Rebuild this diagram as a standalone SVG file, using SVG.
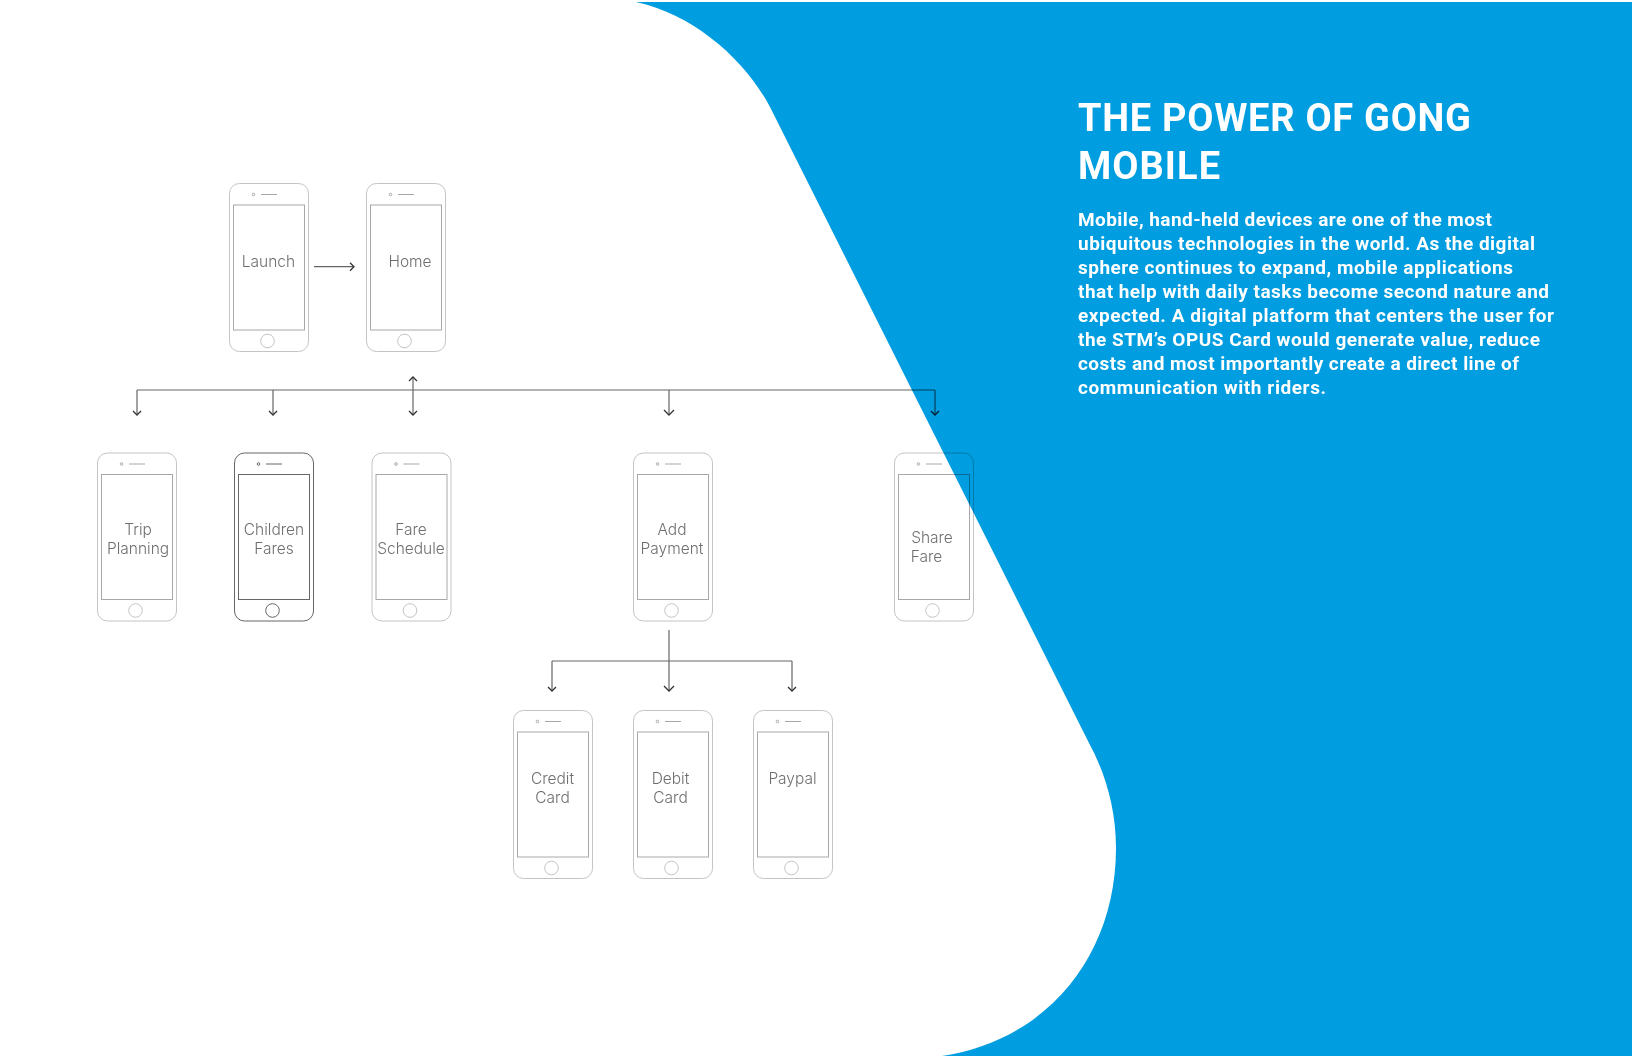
<svg xmlns="http://www.w3.org/2000/svg" xmlns:xlink="http://www.w3.org/1999/xlink" width="1632" height="1056" viewBox="0 0 1632 1056">
<style>
.b{fill:none;stroke:var(--b,#c4c4c4);stroke-width:1}
.s{fill:none;stroke:var(--s,#a8a8a8);stroke-width:1}
.d{--b:#666;--s:#666}
.m{mix-blend-mode:multiply}
.l{font-family:Inter,"Liberation Sans",Arial,sans-serif;font-weight:300;font-size:15.5px;fill:#6f6f6f;text-anchor:middle}
.c{fill:none;stroke:#666;stroke-width:1.2}
.h{fill:none;stroke:#333;stroke-width:1.3}
.t{font-family:Roboto,"Liberation Sans",sans-serif;font-weight:bold;fill:#fff}
</style>
<defs>
<g id="p">
<rect class="b" x="0.5" y="0.5" width="79" height="168" rx="10"/>
<rect class="s" x="4.500" y="22" width="71" height="125"/>
<circle class="s" cx="24.500" cy="11.500" r="1.300"/>
<path class="s" d="M32 11.500H48" stroke-width="1.500"/>
<circle class="b" cx="38.500" cy="158" r="6.800"/>
</g>
</defs>
<rect width="1632" height="1056" fill="#fff"/>
<path id="bg" fill="#009de0" d="M636 2H1632V1056H942C1048 1040 1116 955 1116 848C1116 810 1106 775 1090 745L770 107C745 60 695 15 636 2Z"/>
<g id="connectors" class="m">
<path class="c" d="M137 390H935M137 390V414M273 390V414M413 378V414M669 390V414M935 390V414M314 266.700H353M669 630V690M552 661H792M552 661V690M792 661V690"/>
<path class="h" d="M133 411L137 415L141 411M269 411L273 415L277 411M409 411L413 415L417 411M409 381L413 377L417 381M664 410L669 415L674 410M931 411L935 415L939 411M350 262.700L354 266.700L350 270.700M548 687L552 691L556 687M664 686L669 691L674 686M788 687L792 691L796 687"/>
</g>
<g id="launch"><use xlink:href="#p" x="229" y="183"/><text class="l" x="268.500" y="267">Launch</text></g>
<g id="home"><use xlink:href="#p" x="366" y="183"/><text class="l" x="410" y="267">Home</text></g>
<g id="trip"><use xlink:href="#p" x="97" y="452.500"/><text class="l" x="138" y="535">Trip</text><text class="l" x="138" y="554">Planning</text></g>
<g id="children" class="d"><use xlink:href="#p" x="234" y="452.500"/><text class="l" x="274" y="535">Children</text><text class="l" x="274" y="554">Fares</text></g>
<g id="fare"><use xlink:href="#p" x="371.500" y="452.500"/><text class="l" x="411" y="535">Fare</text><text class="l" x="411" y="554">Schedule</text></g>
<g id="payment"><use xlink:href="#p" x="633" y="452.500"/><text class="l" x="672" y="535">Add</text><text class="l" x="672" y="554">Payment</text></g>
<g id="share" class="m"><use xlink:href="#p" x="894" y="452.500"/><text class="l" x="932" y="543">Share</text><text class="l" x="926.500" y="562">Fare</text></g>
<g id="credit"><use xlink:href="#p" x="513" y="710"/><text class="l" x="552.500" y="784">Credit</text><text class="l" x="552.500" y="803">Card</text></g>
<g id="debit"><use xlink:href="#p" x="633" y="710"/><text class="l" x="670.500" y="784">Debit</text><text class="l" x="670.500" y="803">Card</text></g>
<g id="paypal"><use xlink:href="#p" x="753" y="710"/><text class="l" x="792.500" y="784">Paypal</text></g>
<g id="copy">
<text class="t" font-size="38" x="1078" y="131" textLength="393">THE POWER OF GONG</text>
<text class="t" font-size="38" x="1078" y="179" textLength="142">MOBILE</text>
<g font-size="19">
<text class="t" x="1078" y="226" textLength="414">Mobile, hand-held devices are one of the most</text>
<text class="t" x="1078" y="250" textLength="457">ubiquitous technologies in the world. As the digital</text>
<text class="t" x="1078" y="274" textLength="435">sphere continues to expand, mobile applications</text>
<text class="t" x="1078" y="298" textLength="471">that help with daily tasks become second nature and</text>
<text class="t" x="1078" y="322" textLength="476">expected. A digital platform that centers the user for</text>
<text class="t" x="1078" y="346" textLength="462">the STM’s OPUS Card would generate value, reduce</text>
<text class="t" x="1078" y="370" textLength="441">costs and most importantly create a direct line of</text>
<text class="t" x="1078" y="394" textLength="248">communication with riders.</text>
</g>
</g>
</svg>
